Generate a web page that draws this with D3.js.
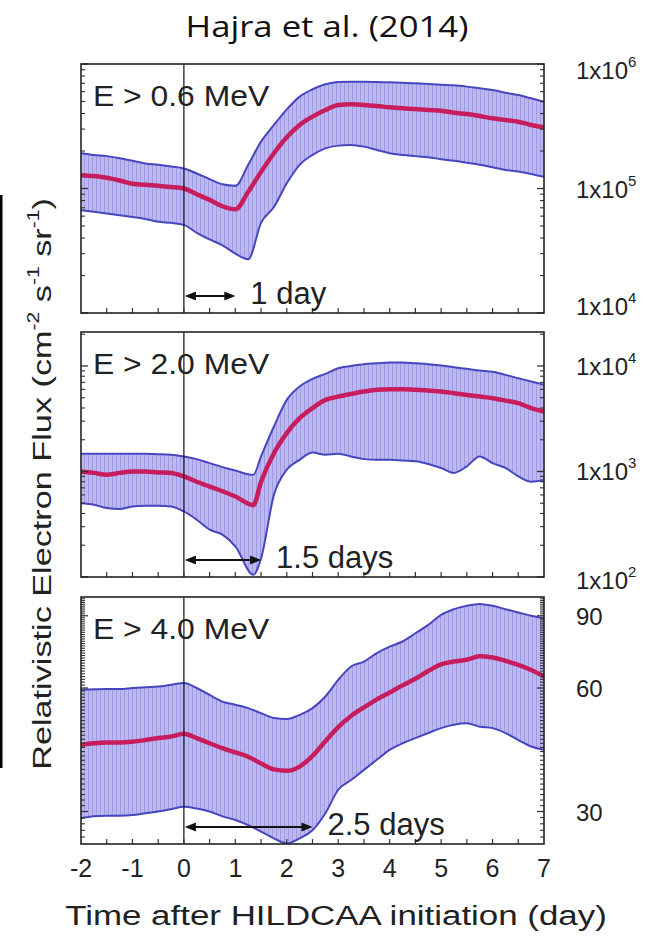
<!DOCTYPE html>
<html><head><meta charset="utf-8">
<script src="https://cdn.jsdelivr.net/npm/d3@7"></script>
<style>
body{margin:0;background:#fff}svg{display:block}
text.ax{font-family:"Liberation Sans",Arial,Helvetica,sans-serif}
text.ttl{font-family:"Open Sans","Lato",sans-serif}
</style>
</head><body>
<svg id="c" width="655" height="937"></svg>
<script>
// ---------- data ----------
const days = [-2,-1.75,-1.5,-1.25,-1,-0.75,-0.5,-0.25,0,0.25,0.5,0.75,1,1.25,1.5,1.75,2,2.25,2.5,2.75,3,3.25,3.5,3.75,4,4.25,4.5,4.75,5,5.25,5.5,5.75,6,6.25,6.5,6.75,7];
const days2 = [-2,-1.75,-1.5,-1.25,-1,-0.75,-0.5,-0.25,0,0.25,0.5,0.75,1,1.35,1.5,1.75,2,2.25,2.5,2.75,3,3.25,3.5,3.75,4,4.25,4.5,4.75,5,5.25,5.5,5.75,6,6.25,6.5,6.75,7];

const mean1 = [128000,126000,122000,116000,109000,107000,105000,103000,100000,90000,81000,72000,68000,94000,136000,192000,258000,324000,378000,427000,469000,475000,469000,460000,449000,441000,435000,427000,422000,406000,396000,382000,366000,355000,344000,324000,310000];
const upper1 = [192000,186000,182000,175000,167000,159000,155000,150000,145000,132000,119000,108000,105000,155000,238000,324000,432000,547000,627000,687000,717000,721000,721000,717000,712000,708000,700000,691000,682000,674000,658000,638000,618000,588000,564000,530000,498000];
const lower1 = [67000,65000,63000,61000,59000,57000,54000,53000,51000,44000,39000,35000,30000,27000,53000,71000,110000,155000,186000,210000,221000,224000,217000,204000,192000,186000,182000,178000,172000,167000,161000,155000,148000,141000,137000,131000,124000];

const mean2 = [1000,970,930,970,1000,1000,980,970,900,800,720,650,580,480,800,1490,2310,3200,3990,4770,5130,5440,5730,5940,6030,6030,5940,5850,5730,5520,5320,5130,4950,4700,4440,3990,3700];
const upper2 = [1470,1470,1470,1470,1470,1470,1460,1440,1390,1310,1200,1100,1020,930,1390,2670,4770,6390,7550,8420,9530,10000,10400,10600,10800,10800,10600,10400,10100,9750,9400,9060,8800,8240,7660,7120,6620];
const lower2 = [500,484,450,440,467,473,473,467,418,349,281,252,195,105,150,600,1040,1290,1510,1440,1470,1390,1310,1290,1290,1270,1250,1180,1080,970,1120,1390,1200,1080,900,800,830];

const mean3 = [43.6,44.0,44.2,44.2,44.4,44.8,45.3,45.7,46.4,45.3,44.0,42.8,41.8,40.8,39.3,38.0,37.7,38.6,41.0,44.5,48.2,51.3,53.8,56.3,58.5,60.9,63.2,66.0,68.5,69.6,70.3,71.7,71.2,69.9,68.3,66.4,64.0];
const upper3 = [59.4,59.6,59.7,59.7,60.0,60.3,60.5,61.1,61.7,60.0,57.7,55.6,54.6,53.6,52.1,50.7,50.4,51.6,53.6,57.2,62.8,67.7,69.6,73.0,75.7,77.9,81.6,85.5,90.5,93.4,95.2,96.2,95.2,93.4,91.7,90.0,88.8];
const lower3 = [28.9,29.2,29.3,29.3,29.4,29.7,30.0,30.4,30.8,30.5,30.0,29.2,28.6,27.8,26.8,25.8,25.1,25.8,27.0,29.7,33.9,35.8,37.9,40.1,42.4,44.0,45.3,46.6,47.9,48.8,49.2,48.3,47.9,46.6,44.8,43.2,42.4];

const xTicks = [-2,-1,0,1,2,3,4,5,6,7];
const panelLabels = ["E > 0.6 MeV","E > 2.0 MeV","E > 4.0 MeV"];
const delayDays = [1, 1.5, 2.5];
const delayLabels = ["1 day","1.5 days","2.5 days"];
const yDomains = [[1e4,1e6],[100,21000],[25,100]];
const yLabelTicks = [[1e4,1e5,1e6],[100,1000,10000],[30,60,90]];

// ---------- layout ----------
const svg = d3.select("#c");
const x0 = 81, x1 = 544;
const panels = [{top:64,bottom:313},{top:332,bottom:577},{top:597,bottom:844}];
const x = d3.scaleLinear().domain([-2,7]).range([x0,x1]);

const defs = svg.append("defs");
const pat = defs.append("pattern").attr("id","hatch").attr("patternUnits","userSpaceOnUse")
  .attr("width",4).attr("height",10);
pat.append("rect").attr("width",4).attr("height",10).attr("fill","#bcb9f2");
pat.append("rect").attr("width",1).attr("height",10).attr("fill","#9e9ae4");

function fit(t, tx, ty, w, rot) {
  t.attr("x",0).attr("y",0);
  const bw = t.node().getBBox().width;
  const sx = w / bw;
  t.attr("transform", `translate(${tx},${ty})${rot?` rotate(${rot})`:""} scale(${sx},1)`);
  return t;
}

fit(svg.append("text").attr("class","ttl").attr("text-anchor","middle")
  .attr("font-size",30).attr("fill","#111").text("Hajra et al. (2014)"), 327, 37, 283);

svg.append("rect").attr("x",0).attr("y",195).attr("width",2.5).attr("height",573).attr("fill","#000");

const data = [
  {d:days, m:mean1, u:upper1, l:lower1},
  {d:days2, m:mean2, u:upper2, l:lower2},
  {d:days, m:mean3, u:upper3, l:lower3}
];

function ax(sel){ return sel.append("text").attr("class","ax").attr("fill","#222"); }

panels.forEach((p,i)=>{
  const y = d3.scaleLog().domain(yDomains[i]).range([p.bottom,p.top]);
  const g = svg.append("g");
  const cid = "clip"+i;
  defs.append("clipPath").attr("id",cid).append("rect")
    .attr("x",x0).attr("y",p.top).attr("width",x1-x0).attr("height",p.bottom-p.top);
  const pts = data[i].d.map((d,k)=>({d, m:data[i].m[k], u:data[i].u[k], l:data[i].l[k]}));
  const cg = g.append("g").attr("clip-path",`url(#${cid})`);
  const curve = d3.curveMonotoneX;
  cg.append("path").datum(pts).attr("fill","url(#hatch)")
    .attr("d", d3.area().x(v=>x(v.d)).y0(v=>y(v.l)).y1(v=>y(v.u)).curve(curve));
  ["u","l"].forEach(key=>{
    cg.append("path").datum(pts).attr("fill","none").attr("stroke","#4646c0").attr("stroke-width",2)
      .attr("d", d3.line().x(v=>x(v.d)).y(v=>y(v[key])).curve(curve));
  });
  cg.append("path").datum(pts).attr("fill","none").attr("stroke","#c81d5c").attr("stroke-width",4.5)
    .attr("stroke-linejoin","round")
    .attr("d", d3.line().x(v=>x(v.d)).y(v=>y(v.m)).curve(curve));

  g.append("line").attr("x1",x(0)).attr("x2",x(0)).attr("y1",p.top).attr("y2",p.bottom)
    .attr("stroke","#111").attr("stroke-width",1.2);

  const xt = d3.range(-1.5,7,0.5);
  g.selectAll(null).data(xt).enter().append("line")
    .attr("x1",d=>x(d)).attr("x2",d=>x(d)).attr("y1",p.bottom).attr("y2",p.bottom-5)
    .attr("stroke","#333").attr("stroke-width",1.2);

  let minor, major = yLabelTicks[i];
  if (i<2) {
    minor = [];
    const [a,b] = yDomains[i];
    for (let e=Math.floor(Math.log10(a)); e<=Math.ceil(Math.log10(b)); e++) {
      for (let k=2;k<10;k++){ const v=k*Math.pow(10,e); if (v>a && v<b) minor.push(v); }
    }
  } else {
    minor = d3.range(26,100).filter(v=>!major.includes(v));
  }
  [[x0,1],[x1,-1]].forEach(([xx,dir])=>{
    g.selectAll(null).data(minor).enter().append("line")
      .attr("x1",xx).attr("x2",xx+dir*4).attr("y1",d=>y(d)).attr("y2",d=>y(d))
      .attr("stroke","#333").attr("stroke-width",1.1);
    g.selectAll(null).data(major).enter().append("line")
      .attr("x1",xx).attr("x2",xx+dir*7).attr("y1",d=>y(d)).attr("y2",d=>y(d))
      .attr("stroke","#333").attr("stroke-width",1.3);
  });

  g.append("rect").attr("x",x0).attr("y",p.top).attr("width",x1-x0).attr("height",p.bottom-p.top)
    .attr("fill","none").attr("stroke","#222").attr("stroke-width",1.6);

  yLabelTicks[i].forEach(v=>{
    const ty = y(v);
    let off = 9;
    if (Math.abs(ty-p.top)<3) off = 15;
    else if (Math.abs(ty-p.bottom)<3) off = (i===0 ? 2 : 12);
    const t = ax(g).attr("x",576).attr("y",ty+off).attr("font-size",24);
    if (i<2) {
      t.append("tspan").text("1x10");
      t.append("tspan").attr("dy",-12).attr("font-size",15).text(String(Math.round(Math.log10(v))));
    } else t.text(String(v));
  });

  fit(ax(g).attr("font-size",29).text(panelLabels[i]), 93, p.top+42, 177);

  const ay = p.bottom-17;
  const xa = x(0)+1, xb = x(delayDays[i]);
  g.append("line").attr("x1",xa+8).attr("x2",xb-8).attr("y1",ay).attr("y2",ay)
    .attr("stroke","#111").attr("stroke-width",2);
  g.append("path").attr("d",`M${xa},${ay} l11,-4.5 l0,9 z`).attr("fill","#111");
  g.append("path").attr("d",`M${xb},${ay} l-11,-4.5 l0,9 z`).attr("fill","#111");
  ax(g).attr("x",xb+15).attr("y",p.bottom-9).attr("font-size",31).text(delayLabels[i]);
});

xTicks.forEach(d=>{
  ax(svg).attr("x",x(d)).attr("y",877).attr("text-anchor","middle").attr("font-size",25).text(d);
});

fit(ax(svg).attr("text-anchor","middle").attr("font-size",28)
  .text("Time after HILDCAA initiation (day)"), 336, 925, 542);

const yl = ax(svg).attr("text-anchor","middle").attr("font-size",26);
yl.append("tspan").text("Relativistic Electron Flux (cm");
yl.append("tspan").attr("dy",-12).attr("font-size",16).text("-2");
yl.append("tspan").attr("dy",12).text(" s");
yl.append("tspan").attr("dy",-12).attr("font-size",16).text("-1");
yl.append("tspan").attr("dy",12).text(" sr");
yl.append("tspan").attr("dy",-12).attr("font-size",16).text("-1");
yl.append("tspan").attr("dy",12).text(")");
fit(yl, 51, 484, 572, -90);
</script>
</body></html>
